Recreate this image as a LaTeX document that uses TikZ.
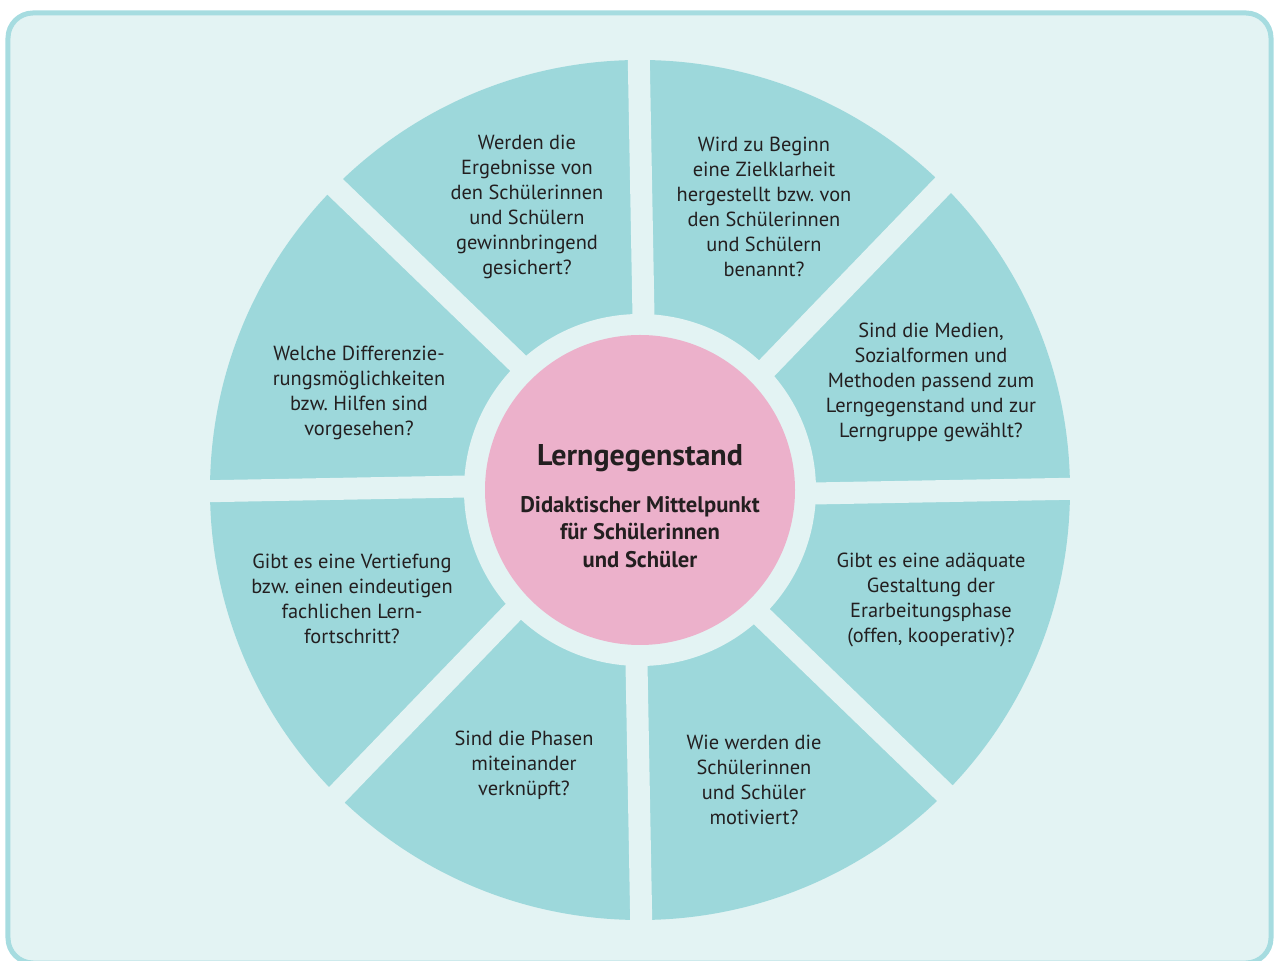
\documentclass[tikz,border=0pt]{standalone}
\usepackage{fontspec}
\setmainfont{PT Sans}
\definecolor{hell}{HTML}{E3F3F3}
\definecolor{rand}{HTML}{A6DCE0}
\definecolor{ring}{HTML}{9DD8DB}
\definecolor{rosa}{HTML}{ECB1CB}
\definecolor{schrift}{HTML}{231F20}

\begin{document}
\frenchspacing
\begin{tikzpicture}[x=0.5pt,y=0.5pt]
   \useasboundingbox (-640,-471) rectangle (637,490);
   \draw[rand,fill=hell,line width=2.5pt,rounded corners=12.5pt] (-632,-473) rectangle (631,477);
   \fill[ring] (0,0) circle (215pt);
   \begin{scope}[every path/.style={draw=hell,line width=11pt}]
    \draw (-1.5:150) -- (0.2:450);
    \draw (43.5:150) -- (45.2:450);
    \draw (88.5:150) -- (90.2:450);
    \draw (133.5:150) -- (135.2:450);
    \draw (178.5:150) -- (180.2:450);
    \draw (223.5:150) -- (225.2:450);
    \draw (268.5:150) -- (270.2:450);
    \draw (313.5:150) -- (315.2:450);
   \end{scope}
   \fill[hell] (0,0) circle (88pt);
   \fill[rosa] (0,0) circle (77.5pt);
   \begin{scope}[every node/.style={align=center,text=schrift,font=\fontsize{10.2}{12.5}\selectfont}]
    \node (f1) at (-113,283) {Werden die\\Ergebnisse von\\den Schülerinnen\\und Schülern\\gewinnbringend\\gesichert?};
    \node (f2) at (124,283) {Wird zu Beginn\\eine Zielklarheit\\hergestellt bzw. von\\den Schülerinnen\\und Schülern\\benannt?};
    \node (f3) at (291,108) {Sind die Medien,\\Sozialformen und\\Methoden passend zum\\Lerngegenstand und zur\\Lerngruppe gewählt?};
    \node (f4) at (291,-110) {Gibt es eine adäquate\\Gestaltung der\\Erarbeitungsphase\\(offen, kooperativ)?};
    \node (f5) at (114,-290) {Wie werden die\\Schülerinnen\\und Schüler\\motiviert?};
    \node (f6) at (-116,-275) {Sind die Phasen\\miteinander\\verknüpft?};
    \node (f7) at (-288,-109) {Gibt es eine Vertiefung\\bzw. einen eindeutigen\\fachlichen Lern-\\fortschritt?};
    \node (f8) at (-281,97) {Welche Differenzie-\\rungsmöglichkeiten\\bzw. Hilfen sind\\vorgesehen?};
   \end{scope}
   \node[text=schrift,font=\fontsize{15}{17}\selectfont\bfseries] (m1) at (0,32) {Lerngegenstand};
   \node[text=schrift,align=center,font=\fontsize{11.3}{13.75}\selectfont\bfseries] (m2) at (0,-42) {Didaktischer Mittelpunkt\\für Schülerinnen\\und Schüler};
\end{tikzpicture}
\end{document}
